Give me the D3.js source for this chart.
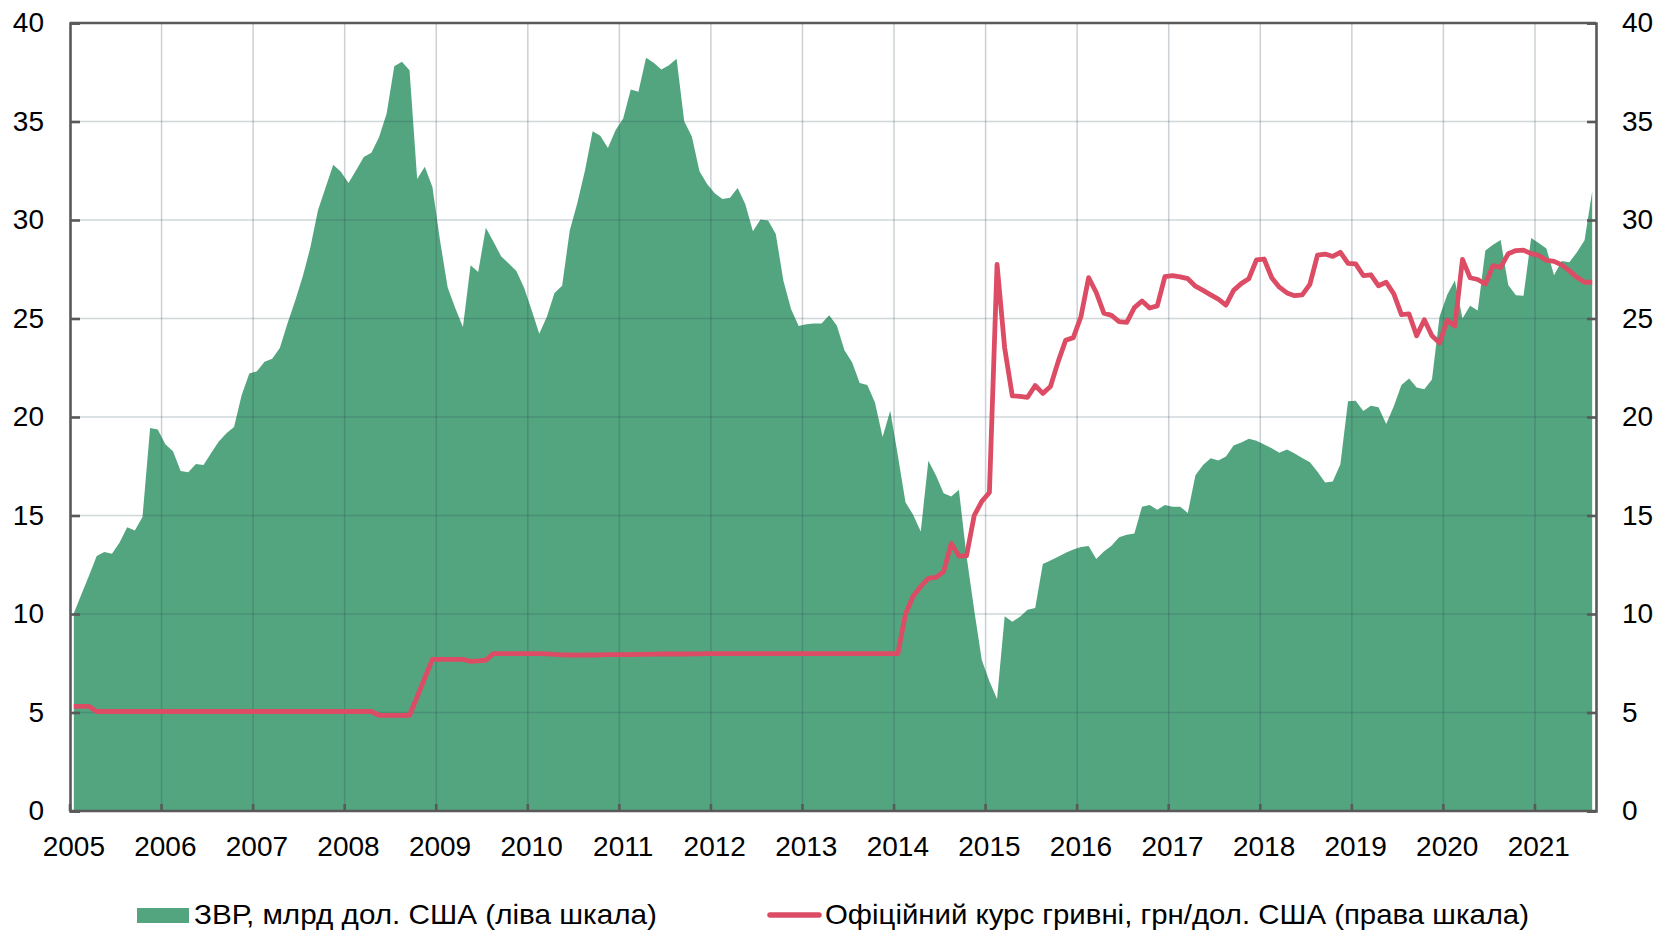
<!DOCTYPE html>
<html>
<head>
<meta charset="utf-8">
<script src="https://cdn.jsdelivr.net/npm/d3@7"></script>
<style>
	html, body { margin: 0; padding: 0; background: #fff; }
	svg text { font-family: 'Liberation Sans', Arial, sans-serif; fill: #000; }
</style>
</head>
<body>
<div id="chart"></div>
<script>
'use strict';

// monthly data, Jan 2005 - Aug 2021
var years = ['2005', '2006', '2007', '2008', '2009', '2010', '2011', '2012', '2013', '2014', '2015', '2016', '2017', '2018', '2019', '2020', '2021'];

var reserves = [
	10.04, 11.0, 11.95, 12.95, 13.15, 13.06, 13.63, 14.4, 14.24, 14.92, 19.44, 19.37,
	18.62, 18.26, 17.26, 17.19, 17.62, 17.56, 18.17, 18.76, 19.17, 19.49, 21.12, 22.21,
	22.32, 22.8, 22.96, 23.5, 24.75, 25.89, 27.13, 28.6, 30.5, 31.65, 32.8, 32.45,
	31.88, 32.52, 33.2, 33.42, 34.2, 35.4, 37.8, 38.03, 37.6, 32.08, 32.7, 31.67,
	28.95, 26.57, 25.52, 24.57, 27.7, 27.36, 29.61, 28.9, 28.16, 27.79, 27.41, 26.57,
	25.43, 24.23, 25.09, 26.29, 26.66, 29.47, 30.88, 32.53, 34.51, 34.28, 33.65, 34.55,
	35.15, 36.62, 36.51, 38.23, 37.98, 37.64, 37.85, 38.19, 35.01, 34.24, 32.47, 31.83,
	31.36, 31.06, 31.13, 31.63, 30.81, 29.43, 30.02, 29.97, 29.29, 26.91, 25.48, 24.62,
	24.71, 24.75, 24.75, 25.16, 24.64, 23.39, 22.78, 21.73, 21.62, 20.73, 18.99, 20.32,
	18.05, 15.67, 15.04, 14.19, 17.78, 17.03, 16.13, 15.97, 16.31, 12.95, 10.22, 7.66,
	6.59, 5.68, 9.88, 9.61, 9.86, 10.22, 10.31, 12.54, 12.72, 12.9, 13.11, 13.27,
	13.4, 13.45, 12.79, 13.17, 13.47, 13.9, 14.02, 14.08, 15.45, 15.53, 15.29, 15.53,
	15.45, 15.45, 15.13, 17.04, 17.56, 17.9, 17.79, 17.99, 18.55, 18.71, 18.89, 18.8,
	18.6, 18.42, 18.19, 18.35, 18.15, 17.92, 17.7, 17.22, 16.67, 16.72, 17.6, 20.8,
	20.83, 20.3, 20.57, 20.5, 19.64, 20.55, 21.62, 21.96, 21.5, 21.41, 21.9, 25.1,
	26.2, 26.93, 25.0, 25.65, 25.4, 28.45, 28.75, 28.98, 26.7, 26.18, 26.15, 29.08,
	28.83, 28.55, 27.2, 27.92, 27.85, 28.36, 28.97, 31.45
];

var rate = [
	5.31, 5.31, 5.31, 5.05, 5.05, 5.05, 5.05, 5.05, 5.05, 5.05, 5.05, 5.05,
	5.05, 5.05, 5.05, 5.05, 5.05, 5.05, 5.05, 5.05, 5.05, 5.05, 5.05, 5.05,
	5.05, 5.05, 5.05, 5.05, 5.05, 5.05, 5.05, 5.05, 5.05, 5.05, 5.05, 5.05,
	5.05, 5.05, 5.05, 5.05, 4.86, 4.85, 4.85, 4.85, 4.86, 5.8, 6.75, 7.7,
	7.7, 7.7, 7.7, 7.7, 7.6, 7.62, 7.66, 7.99, 7.99, 7.99, 7.99, 7.99,
	7.99, 7.99, 7.98, 7.95, 7.93, 7.92, 7.91, 7.92, 7.92, 7.92, 7.94, 7.94,
	7.94, 7.94, 7.95, 7.95, 7.96, 7.97, 7.97, 7.97, 7.97, 7.98, 7.98, 7.99,
	7.99, 7.99, 7.99, 7.99, 7.99, 7.99, 7.99, 7.99, 7.99, 7.99, 7.99, 7.99,
	7.99, 7.99, 7.99, 7.99, 7.99, 7.99, 7.99, 7.99, 7.99, 7.99, 7.99, 7.99,
	7.99, 10.0, 10.9, 11.4, 11.81, 11.86, 12.15, 13.58, 12.95, 12.95, 14.99, 15.72,
	16.17, 27.74, 23.5, 21.07, 21.05, 21.0, 21.6, 21.2, 21.55, 22.8, 23.9, 24.03,
	25.1, 27.07, 26.32, 25.27, 25.16, 24.84, 24.8, 25.55, 25.89, 25.53, 25.64, 27.13,
	27.18, 27.11, 27.02, 26.64, 26.43, 26.2, 25.98, 25.68, 26.43, 26.77, 27.02, 27.97,
	28.02, 27.07, 26.59, 26.3, 26.16, 26.2, 26.73, 28.22, 28.27, 28.15, 28.36, 27.8,
	27.77, 27.18, 27.22, 26.66, 26.84, 26.25, 25.2, 25.23, 24.12, 24.94, 24.12, 23.76,
	24.92, 24.62, 28.0, 27.07, 26.98, 26.75, 27.68, 27.59, 28.29, 28.45, 28.47, 28.29,
	28.2, 27.95, 27.9, 27.72, 27.43, 27.09, 26.84, 26.84
];

var yTicks = [0, 5, 10, 15, 20, 25, 30, 35, 40];

var legendItems = ['ЗВР, млрд дол. США (ліва шкала)', 'Офіційний курс гривні, грн/дол. США (права шкала)'];

var green = '#53a57f';
var red = '#dc4c65';
var axisColor = '#595959';

var width = 1656;
var height = 933;
var margin = {top: 23, right: 60, bottom: 122, left: 70};
var innerW = width - margin.left - margin.right;
var innerH = height - margin.top - margin.bottom;

var svg = d3.select('#chart').append('svg')
	.attr('width', width)
	.attr('height', height);

var g = svg.append('g')
	.attr('transform', 'translate(' + margin.left + ',' + margin.top + ')');

// x: month index, points sit in the middle of each month
var x = d3.scaleLinear().domain([0, reserves.length]).range([0, innerW]);
var yL = d3.scaleLinear().domain([0, 40]).range([innerH, 0]);
var yR = d3.scaleLinear().domain([0, 40]).range([innerH, 0]);

var area = d3.area()
	.x(function(d, i){ return x(i + 0.5); })
	.y0(innerH)
	.y1(function(d){ return yL(d); });

g.append('path')
	.datum(reserves)
	.attr('fill', green)
	.attr('d', area);

// grid on top of the area so it shows through
var grid = g.append('g').attr('class', 'grid');

grid.selectAll('.hgrid')
	.data(yTicks.slice(1, -1))
	.enter().append('line')
		.attr('x1', 0)
		.attr('x2', innerW)
		.attr('y1', function(d){ return yL(d); })
		.attr('y2', function(d){ return yL(d); })
		.attr('stroke', '#2f4858')
		.attr('stroke-opacity', 0.22)
		.attr('stroke-width', 1.3);

grid.selectAll('.vgrid')
	.data(years.slice(1))
	.enter().append('line')
		.attr('x1', function(d, i){ return x((i + 1) * 12); })
		.attr('x2', function(d, i){ return x((i + 1) * 12); })
		.attr('y1', 0)
		.attr('y2', innerH)
		.attr('stroke', '#2f4858')
		.attr('stroke-opacity', 0.25)
		.attr('stroke-width', 1.5);

var line = d3.line()
	.x(function(d, i){ return x(i + 0.5); })
	.y(function(d){ return yR(d); });

g.append('path')
	.datum(rate)
	.attr('fill', 'none')
	.attr('stroke', red)
	.attr('stroke-width', 4.8)
	.attr('stroke-linejoin', 'round')
	.attr('d', line);

// axes
var leftAxis = d3.axisLeft(yL).tickValues(yTicks).tickSize(-10).tickPadding(26).tickFormat(d3.format('d'));
var rightAxis = d3.axisRight(yR).tickValues(yTicks).tickSize(-9).tickPadding(26).tickFormat(d3.format('d'));

var gl = g.append('g').call(leftAxis);
var gr = g.append('g').attr('transform', 'translate(' + innerW + ',0)').call(rightAxis);

[gl, gr].forEach(function(a){
	a.select('.domain').attr('stroke', axisColor).attr('stroke-width', 2.6);
	a.selectAll('.tick line').attr('stroke', axisColor).attr('stroke-width', 2.6);
	a.selectAll('.tick text').attr('font-size', 28).attr('fill', '#000');
});

var gx = g.append('g').attr('transform', 'translate(0,' + innerH + ')');

gx.append('line')
	.attr('x1', 0).attr('x2', innerW)
	.attr('stroke', axisColor).attr('stroke-width', 2.6);

gx.selectAll('.xtick')
	.data(years)
	.enter().append('line')
		.attr('x1', function(d, i){ return x(i * 12); })
		.attr('x2', function(d, i){ return x(i * 12); })
		.attr('y1', 0)
		.attr('y2', -7)
		.attr('stroke', axisColor)
		.attr('stroke-width', 2.6);

gx.selectAll('.xlabel')
	.data(years)
	.enter().append('text')
		.attr('x', function(d, i){ return x(i * 12 + 0.5); })
		.attr('y', 45)
		.attr('text-anchor', 'middle')
		.attr('font-size', 28)
		.text(function(d){ return d; });

g.append('line')
	.attr('x1', 0).attr('x2', innerW)
	.attr('y1', 0).attr('y2', 0)
	.attr('stroke', axisColor).attr('stroke-width', 2.6);

// legend
var legend = svg.append('g');

legend.append('rect')
	.attr('x', 137).attr('y', 908)
	.attr('width', 52).attr('height', 15)
	.attr('fill', green);

legend.append('text')
	.attr('x', 194).attr('y', 924)
	.attr('font-size', 28)
	.attr('textLength', 463)
	.attr('lengthAdjust', 'spacingAndGlyphs')
	.text(legendItems[0]);

legend.append('line')
	.attr('x1', 770).attr('x2', 819)
	.attr('y1', 915).attr('y2', 915)
	.attr('stroke', red)
	.attr('stroke-width', 5.5)
	.attr('stroke-linecap', 'round');

legend.append('text')
	.attr('x', 825).attr('y', 924)
	.attr('font-size', 28)
	.attr('textLength', 704)
	.attr('lengthAdjust', 'spacingAndGlyphs')
	.text(legendItems[1]);

</script>
</body>
</html>
